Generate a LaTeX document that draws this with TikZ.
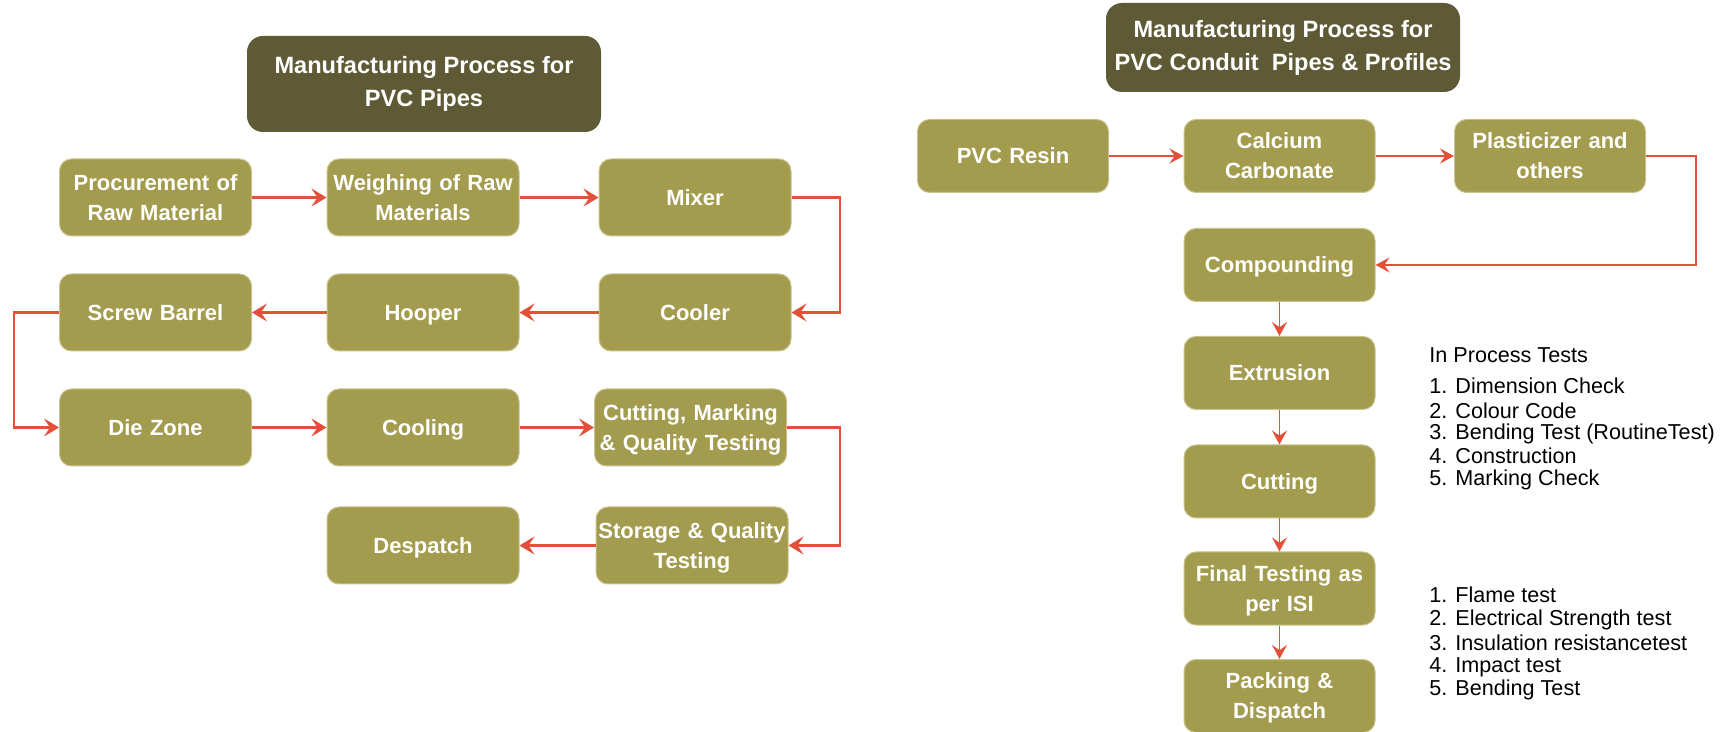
\documentclass[tikz,border=0pt]{standalone}
\usepackage{fontspec}
\setmainfont{Liberation Sans}
\usetikzlibrary{arrows.meta}
\definecolor{boxfill}{HTML}{A39C4E}
\definecolor{boxedge}{HTML}{C8C38E}
\definecolor{titlefill}{HTML}{5F5A36}
\definecolor{flow}{HTML}{E3503A}
% fixed line height so that capitals sit in the middle of each box
\newcommand{\boxstrut}{\rule[-3.2pt]{0pt}{14.2pt}}
\begin{document}
\begin{tikzpicture}[x=0.5pt,y=-0.5pt,
  stepbox/.style={draw=boxedge, line width=0.5pt, fill=boxfill, rounded corners=6pt,
    text=white, font=\bfseries\fontsize{11}{15}\selectfont, align=center,
    inner sep=1pt, execute at begin node={\boxstrut}, execute at end node={\boxstrut}},
  lbox/.style={stepbox, minimum width=96pt, minimum height=38.5pt, text width=94pt},
  rbox/.style={stepbox, minimum width=95.5pt, minimum height=36.5pt, text width=93pt},
  headbox/.style={fill=titlefill, rounded corners=8pt, text=white, align=center,
    font=\bfseries\fontsize{11.8}{16.5}\selectfont, inner sep=1pt},
  flowL/.style={draw=flow, line width=1.35pt,
    -{Stealth[length=7.5pt, width=9pt, inset=3pt]}},
  flowR/.style={draw=flow, line width=0.9pt,
    -{Stealth[length=7pt, width=7.5pt, inset=2.6pt]}},
  note/.style={anchor=base west, inner sep=0pt, font=\fontsize{10.8}{12}\selectfont}
]
\useasboundingbox (0,0) rectangle (1725,732);

% ---------- PVC pipes ----------
\node[headbox, minimum width=177pt, minimum height=48pt] (ltitle) at (424,84)
  {Manufacturing Process for\\PVC Pipes};

\node[lbox] (p1) at (155.5,197.5) {Procurement of\\Raw Material};
\node[lbox] (p2) at (423,197.5) {Weighing of Raw\\Materials};
\node[lbox] (p3) at (695,197.5) {Mixer};
\node[lbox] (p4) at (155.5,312.5) {Screw Barrel};
\node[lbox] (p5) at (423,312.5) {Hooper};
\node[lbox] (p6) at (695,312.5) {Cooler};
\node[lbox] (p7) at (155.5,427.5) {Die Zone};
\node[lbox] (p8) at (423,427.5) {Cooling};
\node[lbox] (p9) at (690.5,427.5) {Cutting, Marking\\\& Quality Testing};
\node[lbox] (p10) at (423,545.5) {Despatch};
\node[lbox] (p11) at (692,545.5) {Storage \& Quality\\Testing};

\coordinate (railR) at (840,0);
\coordinate (railL) at (14,0);

\draw[flowL] (p1.east) -- (p2.west);
\draw[flowL] (p2.east) -- (p3.west);
\draw[flowL] (p3.east) -- (p3.east -| railR) |- (p6.east);
\draw[flowL] (p6.west) -- (p5.east);
\draw[flowL] (p5.west) -- (p4.east);
\draw[flowL] (p4.west) -- (p4.west -| railL) |- (p7.west);
\draw[flowL] (p7.east) -- (p8.west);
\draw[flowL] (p8.east) -- (p9.west);
\draw[flowL] (p9.east) -- (p9.east -| railR) |- (p11.east);
\draw[flowL] (p11.west) -- (p10.east);

% ---------- PVC conduit pipes & profiles ----------
\node[headbox, minimum width=177pt, minimum height=44.5pt] (rtitle) at (1283,47.5)
  {Manufacturing Process for\\PVC Conduit~ Pipes \& Profiles};

\node[rbox] (q1) at (1013,156) {PVC Resin};
\node[rbox] (q2) at (1279.5,156) {Calcium\\Carbonate};
\node[rbox] (q3) at (1550,156) {Plasticizer and\\others};
\node[rbox] (q4) at (1279.5,265) {Compounding};
\node[rbox] (q5) at (1279.5,373) {Extrusion};
\node[rbox] (q6) at (1279.5,481.5) {Cutting};
\node[rbox] (q7) at (1279.5,588.5) {Final Testing as\\per ISI};
\node[rbox] (q8) at (1279.5,696) {Packing \&\\Dispatch};

\coordinate (railQ) at (1696,0);

\draw[flowR] (q1.east) -- (q2.west);
\draw[flowR] (q2.east) -- (q3.west);
\draw[flowR] (q3.east) -- (q3.east -| railQ) |- (q4.east);
\draw[flowR] (q4.south) -- (q5.north);
\draw[flowR] (q5.south) -- (q6.north);
\draw[flowR] (q6.south) -- (q7.north);
\draw[flowR] (q7.south) -- (q8.north);

% test lists
\node[note] (t0) at (1429,362.7) {In Process Tests};
\node[note] (t1) at (1429,393.3) {1. Dimension Check};
\node[note] (t2) at (1429,418.3) {2. Colour Code};
\node[note] (t3) at (1429,440) {3. Bending Test (RoutineTest)};
\node[note] (t4) at (1429,463.3) {4. Construction};
\node[note] (t5) at (1429,486) {5. Marking Check};

\node[note] (f1) at (1429,602.7) {1. Flame test};
\node[note] (f2) at (1429,625) {2. Electrical Strength test};
\node[note] (f3) at (1429,650) {3. Insulation resistancetest};
\node[note] (f4) at (1429,672.3) {4. Impact test};
\node[note] (f5) at (1429,695) {5. Bending Test};
\end{tikzpicture}
\end{document}
